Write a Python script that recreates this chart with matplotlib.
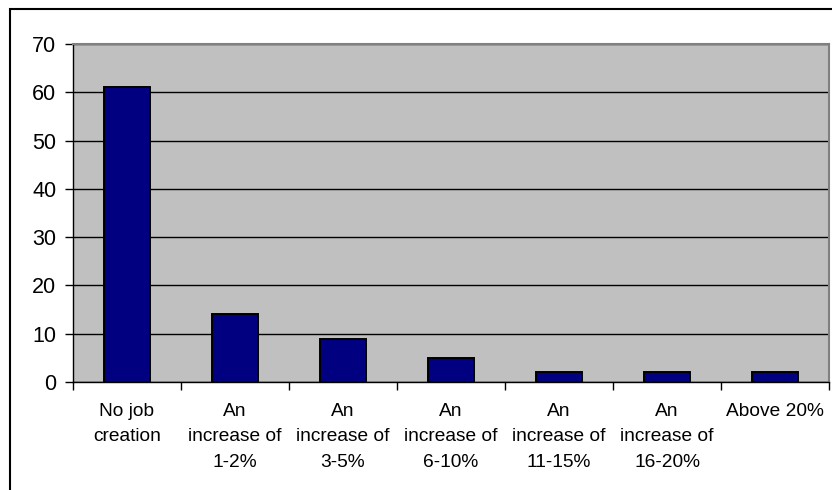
import matplotlib
matplotlib.use("Agg")
import matplotlib.pyplot as plt
from matplotlib.patches import Rectangle
import numpy as np

categories = ["No job\ncreation", "An\nincrease of\n1-2%", "An\nincrease of\n3-5%",
              "An\nincrease of\n6-10%", "An\nincrease of\n11-15%", "An\nincrease of\n16-20%",
              "Above 20%"]
values = [61, 14, 9, 5, 2, 2, 2]
yticks = [0, 10, 20, 30, 40, 50, 60, 70]

plt.rcParams["font.family"] = ["Liberation Sans", "DejaVu Sans"]

fig = plt.figure(figsize=(8.32, 4.9), dpi=100)
fig.patch.set_facecolor("white")
# outer chart border (cut off at right/bottom like the source)
fig.patches.append(Rectangle((10/832, -0.1), 1.2, (490-9)/490 + 0.1, transform=fig.transFigure,
                             fill=False, edgecolor="black", lw=1.5))

ax = fig.add_axes([73/832, 1-382/490, (829-73)/832, (382-44)/490])
ax.set_facecolor("#C0C0C0")
x = np.arange(len(values))
ax.bar(x, values, width=0.42, color="#000080", edgecolor="black", lw=1.4, zorder=3)

ax.set_xlim(-0.5, len(values)-0.5)
ax.set_ylim(0, 70)
ax.set_yticks(yticks)
ax.tick_params(axis="y", labelsize=15.5, length=6, width=1, direction="out", pad=6)
ax.set_xticks(x)
ax.set_xticklabels(categories, fontsize=13.8, linespacing=1.65, va="top")
ax.tick_params(axis="x", which="major", length=0, pad=15)
ax.set_xticks(np.arange(-0.5, len(values)), minor=True)
ax.tick_params(axis="x", which="minor", length=6, width=1, direction="out")

ax.set_axisbelow(True)
ax.yaxis.grid(True, color="black", lw=1)
for s in ["top", "right"]:
    ax.spines[s].set_color("#808080")
    ax.spines[s].set_linewidth(1.5)
for s in ["left", "bottom"]:
    ax.spines[s].set_color("black")
    ax.spines[s].set_linewidth(1)

fig.savefig("out.png", dpi=100)
